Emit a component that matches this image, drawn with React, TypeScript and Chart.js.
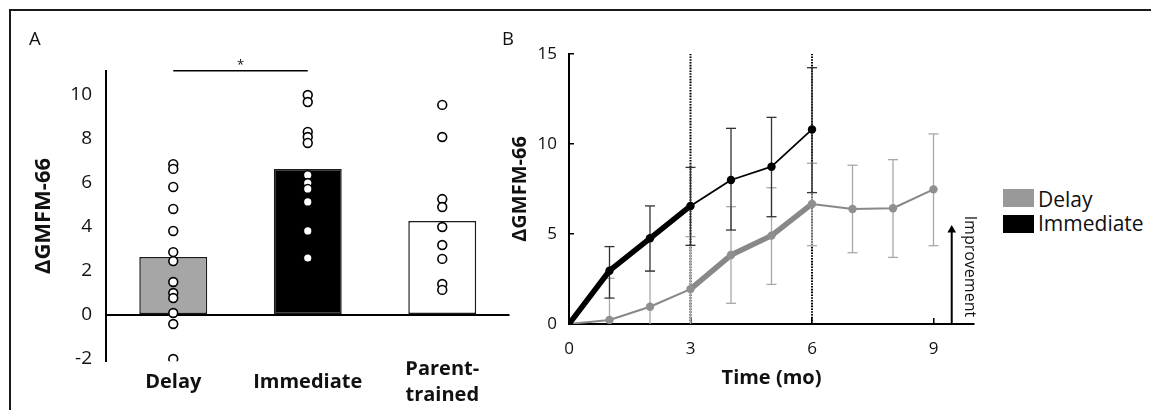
import React, { useEffect, useRef } from 'react';
import { Chart, registerables } from 'chart.js';

Chart.register(...registerables);

// ---------- Panel A data ----------
const groups = ['Delay', 'Immediate', 'Parent-trained'];
const groupMeans = [2.64, 6.64, 4.27];
const delayScores = [6.86, 6.64, 5.82, 4.82, 3.82, 2.86, 2.45, 1.5, 1.0, 0.77, 0.09, -0.41, -2.0];
const immediateScores = [10.0, 9.68, 8.32, 8.09, 7.82, 6.36, 6.0, 5.73, 5.14, 3.82, 2.59];
const parentScores = [9.55, 8.09, 5.27, 4.91, 4.0, 3.18, 2.55, 1.41, 1.14];
const barColors = ['#a6a6a6', '#000000', '#ffffff'];
const yTicksA = [-2, 0, 2, 4, 6, 8, 10];
const sigLevel = 11.1;

// ---------- Panel B data ----------
const seriesNames = ['Delay', 'Immediate'];
const seriesColors = ['#999999', '#000000'];
const delayMonths = [0, 1, 2, 3, 4, 5, 6, 7, 8, 9];
const delayMean = [0, 0.22, 0.96, 1.94, 3.83, 4.91, 6.67, 6.39, 6.43, 7.48];
const delayUpper = [null, 2.54, 2.94, 4.85, 6.52, 7.57, 8.93, 8.82, 9.13, 10.56];
const delayLower = [null, -2.1, -1.02, -0.97, 1.15, 2.2, 4.35, 3.96, 3.7, 4.35];
const immediateMonths = [0, 1, 2, 3, 4, 5, 6];
const immediateMean = [0, 2.96, 4.76, 6.56, 8.0, 8.74, 10.81];
const immediateUpper = [null, 4.3, 6.56, 8.7, 10.87, 11.48, 14.24];
const immediateLower = [null, 1.44, 2.94, 4.37, 5.22, 5.96, 7.3];
const xTicksB = [0, 3, 6, 9];
const yTicksB = [0, 5, 10, 15];
const phaseMarks = [3, 6];

const FONT = '"Open Sans", sans-serif';
const INK = '#111111';

function errorBarPoints(xs: number[], lo: (number | null)[], hi: (number | null)[]) {
  const pts: any[] = [];
  xs.forEach((x, i) => {
    if (lo[i] == null || hi[i] == null) return;
    pts.push({ x, y: lo[i] }, { x, y: hi[i] }, { x, y: null });
  });
  return pts;
}

function makeTextPlugin(notes: any[]) {
  return {
    id: 'textNotes',
    afterDraw(chart: any) {
      const ctx = chart.ctx;
      const xs = chart.scales.x;
      const ys = chart.scales.y;
      notes.forEach((n) => {
        ctx.save();
        ctx.translate(xs.getPixelForValue(n.x), ys.getPixelForValue(n.y));
        ctx.rotate(n.rotation || 0);
        ctx.font = n.font;
        ctx.fillStyle = n.color || INK;
        ctx.textAlign = 'center';
        ctx.textBaseline = 'middle';
        ctx.fillText(n.text, 0, 0);
        ctx.restore();
      });
    },
  };
}

function configA(): any {
  const pointStyle = {
    type: 'line',
    showLine: false,
    pointRadius: 4.4,
    pointBackgroundColor: '#ffffff',
    pointBorderColor: '#000000',
    pointBorderWidth: 1.6,
    order: 0,
  };
  return {
    type: 'bar',
    data: {
      labels: groups,
      datasets: [
        { ...pointStyle, label: 'Delay points', data: delayScores.map((y) => ({ x: groups[0], y })) },
        { ...pointStyle, label: 'Immediate points', data: immediateScores.map((y) => ({ x: groups[1], y })) },
        { ...pointStyle, label: 'Parent points', data: parentScores.map((y) => ({ x: groups[2], y })) },
        {
          type: 'line',
          label: 'significance',
          data: [{ x: groups[0], y: sigLevel }, { x: groups[1], y: sigLevel }],
          borderColor: '#000',
          borderWidth: 1.5,
          pointRadius: 0,
          clip: false,
          order: 0,
        },
        {
          type: 'bar',
          label: 'Mean',
          data: groupMeans,
          backgroundColor: barColors,
          borderColor: '#1a1a1a',
          borderWidth: 1.5,
          borderSkipped: false,
          barPercentage: 0.505,
          categoryPercentage: 1,
          order: 2,
        },
      ],
    },
    options: {
      responsive: true,
      maintainAspectRatio: false,
      animation: false,
      events: [],
      layout: { padding: { left: 20, top: 70.8, right: 10.5, bottom: 0 } },
      plugins: { legend: { display: false }, tooltip: { enabled: false } },
      scales: {
        x: {
          type: 'category',
          offset: true,
          grid: { display: false },
          border: { display: false },
          afterFit: (s: any) => { s.height = 48.8; },
          ticks: {
            color: INK,
            font: { family: FONT, size: 20, weight: 'bold', lineHeight: 1.28 },
            padding: 0.5,
            crossAlign: 'center',
            maxRotation: 0,
            autoSkip: false,
            callback: function (this: any, v: any) {
              const lab = this.getLabelForValue(v) as string;
              const k = lab.indexOf('-');
              return k > 0 ? [lab.slice(0, k + 1), lab.slice(k + 1)] : lab;
            },
          },
        },
        y: {
          type: 'linear',
          min: -2.1,
          max: 11.1,
          afterBuildTicks: (s: any) => { s.ticks = yTicksA.map((value) => ({ value })); },
          afterFit: (s: any) => { s.width = 86; },
          ticks: { color: INK, font: { family: FONT, size: 19 }, padding: 14 },
          grid: {
            drawTicks: false,
            color: (c: any) => (c.tick && c.tick.value === 0 ? '#000' : 'rgba(0,0,0,0)'),
            lineWidth: 2,
          },
          border: { display: true, color: '#000', width: 2 },
          title: {
            display: true,
            text: 'ΔGMFM-66',
            color: INK,
            font: { family: FONT, size: 22, weight: 'bold' },
            padding: { top: 11, bottom: 0 },
          },
        },
      },
    },
    plugins: [
      makeTextPlugin([{ x: 0.5, y: sigLevel + 0.27, text: '*', font: `13px ${FONT}` }]),
    ],
  };
}

function configB(): any {
  return {
    type: 'line',
    data: {
      datasets: [
        {
          label: 'Immediate',
          data: immediateMonths.map((x, i) => ({ x, y: immediateMean[i] })),
          borderColor: '#000',
          backgroundColor: '#000',
          borderWidth: 1.8,
          borderJoinStyle: 'round',
          borderCapStyle: 'round',
          segment: { borderWidth: (c: any) => (c.p0.parsed.x < 3 ? 5.5 : 1.8) },
          pointRadius: 4.2,
          pointBackgroundColor: '#000',
          pointBorderWidth: 0,
          order: 0,
        },
        {
          label: 'Delay',
          data: delayMonths.map((x, i) => ({ x, y: delayMean[i] })),
          borderColor: '#888888',
          backgroundColor: '#8f8f8f',
          borderWidth: 2,
          borderJoinStyle: 'round',
          borderCapStyle: 'round',
          segment: { borderWidth: (c: any) => (c.p0.parsed.x >= 3 && c.p0.parsed.x < 6 ? 5.5 : 2) },
          pointRadius: 4.2,
          pointBackgroundColor: '#8f8f8f',
          pointBorderWidth: 0,
          order: 1,
        },
        {
          label: 'Immediate SD',
          data: errorBarPoints(immediateMonths, immediateLower, immediateUpper),
          borderColor: '#333333',
          borderWidth: 1.3,
          spanGaps: false,
          pointStyle: 'line',
          pointRadius: 5,
          pointBorderColor: '#333333',
          pointBorderWidth: 1.3,
          clip: 0,
          order: 2,
        },
        {
          label: 'Delay SD',
          data: errorBarPoints(delayMonths, delayLower, delayUpper),
          borderColor: '#a8a8a8',
          borderWidth: 1.3,
          spanGaps: false,
          pointStyle: 'line',
          pointRadius: 5,
          pointBorderColor: '#a8a8a8',
          pointBorderWidth: 1.3,
          clip: 0,
          order: 3,
        },
        ...phaseMarks.map((m) => ({
          label: 'phase ' + m,
          data: [{ x: m, y: 0 }, { x: m, y: 15 }],
          borderColor: '#000000',
          borderWidth: 2,
          borderDash: [1.6, 1.2],
          pointRadius: 0,
          order: 4,
        })),
        {
          label: 'Improvement arrow',
          data: [{ x: 9.45, y: 0 }, { x: 9.45, y: 5.22 }],
          borderColor: '#000',
          borderWidth: 2,
          pointStyle: 'triangle',
          pointRadius: [0, 5],
          pointBackgroundColor: '#000',
          pointBorderColor: '#000',
          pointBorderWidth: 0,
          clip: false,
          order: 0,
        },
      ],
    },
    options: {
      responsive: true,
      maintainAspectRatio: false,
      animation: false,
      events: [],
      layout: { padding: { left: 58, top: 54, right: 26, bottom: 10 } },
      plugins: { legend: { display: false }, tooltip: { enabled: false } },
      scales: {
        x: {
          type: 'linear',
          min: 0,
          max: 10,
          afterBuildTicks: (s: any) => { s.ticks = xTicksB.map((value) => ({ value })); },
          afterFit: (s: any) => { s.height = 76; },
          ticks: { color: INK, font: { family: FONT, size: 17 }, padding: 21 },
          grid: { display: true, drawOnChartArea: false, tickLength: -6, color: '#000', lineWidth: 1.5 },
          border: { display: true, color: '#000', width: 2 },
          title: {
            display: true,
            text: 'Time (mo)',
            color: INK,
            font: { family: FONT, size: 20, weight: 'bold' },
            padding: { top: 0, bottom: 10 },
          },
        },
        y: {
          type: 'linear',
          min: 0,
          max: 15,
          afterBuildTicks: (s: any) => { s.ticks = yTicksB.map((value) => ({ value })); },
          afterFit: (s: any) => { s.width = 71; },
          ticks: { color: INK, font: { family: FONT, size: 17 }, padding: 17 },
          grid: { display: true, drawOnChartArea: false, tickLength: -5, color: '#000', lineWidth: 1.5 },
          border: { display: true, color: '#000', width: 2 },
          title: {
            display: true,
            text: 'ΔGMFM-66',
            color: INK,
            font: { family: FONT, size: 20, weight: 'bold' },
            padding: { top: 10, bottom: 0 },
          },
        },
      },
    },
    plugins: [
      makeTextPlugin([
        { x: 9.88, y: 3.2, text: 'Improvement', font: `16px ${FONT}`, rotation: Math.PI / 2 },
      ]),
    ],
  };
}

export default function App() {
  const refA = useRef<HTMLCanvasElement>(null);
  const refB = useRef<HTMLCanvasElement>(null);

  useEffect(() => {
    const a = new Chart(refA.current as HTMLCanvasElement, configA());
    const b = new Chart(refB.current as HTMLCanvasElement, configB());
    return () => {
      a.destroy();
      b.destroy();
    };
  }, []);

  const legendTops = [189, 215];
  const legendTextTops = [186.5, 210.8];

  return (
    <div
      style={{
        position: 'absolute',
        left: 0,
        top: 0,
        width: 1151,
        height: 410,
        overflow: 'hidden',
        background: '#fff',
        fontFamily: FONT,
        color: INK,
      }}
    >
      <div
        style={{
          position: 'absolute',
          left: 9,
          top: 9,
          width: 1300,
          height: 600,
          border: '2px solid #1a1a1a',
        }}
      />
      <div style={{ position: 'absolute', left: 0, top: 0, width: 520, height: 410 }}>
        <canvas ref={refA} />
      </div>
      <div style={{ position: 'absolute', left: 440, top: 0, width: 560, height: 410 }}>
        <canvas ref={refB} />
      </div>
      <div style={{ position: 'absolute', left: 29, top: 27, fontSize: 18.5, lineHeight: '21px' }}>A</div>
      <div style={{ position: 'absolute', left: 502, top: 27, fontSize: 18.5, lineHeight: '21px' }}>B</div>
      {seriesNames.map((name, i) => (
        <React.Fragment key={name}>
          <div
            style={{
              position: 'absolute',
              left: 1003,
              top: legendTops[i],
              width: 31,
              height: 17.5,
              background: seriesColors[i],
            }}
          />
          <div
            style={{
              position: 'absolute',
              left: 1038,
              top: legendTextTops[i],
              fontSize: 21,
              lineHeight: '24px',
              whiteSpace: 'nowrap',
            }}
          >
            {name}
          </div>
        </React.Fragment>
      ))}
    </div>
  );
}
